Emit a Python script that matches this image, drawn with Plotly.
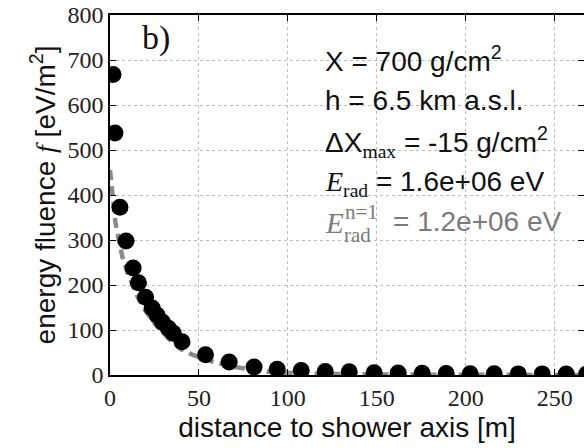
import plotly.graph_objects as go

# ---- data ----
dist_m = [1.7, 2.8, 5.6, 9.0, 13.0, 16.0, 20.0, 23.7, 26.5, 29.4, 32.8, 35.6, 40.5,
          53.7, 67.0, 81.0, 94.0, 107.5, 121.0, 134.5, 148.5, 162.0, 175.5, 189.0,
          202.5, 216.0, 229.5, 243.0, 256.5, 268.0]
fluence = [668, 538, 373, 298, 238, 205, 173, 149, 133, 118, 104, 93, 74,
           45, 29, 18, 13, 10, 8, 7, 5, 4.5, 4, 3.5, 3, 3, 2.5, 2.5, 2, 2]

fit_dist = [0, 1, 2, 3, 5, 7, 10, 13, 16, 20, 25, 30, 35, 40, 47, 58, 70, 89, 110, 150, 200, 270]
fit_flu = [455, 420, 370, 340, 300, 262, 225, 195, 170, 142, 115, 93, 73, 57, 44, 29, 18, 7, 3, 1, 0.3, 0]

x_ticks = [0, 50, 100, 150, 200, 250]
y_ticks = [0, 100, 200, 300, 400, 500, 600, 700, 800]

W, H = 584, 448
L, R, T, B = 110, 0, 15, 448 - 375
X_RANGE = [0, 266.5]
Y_RANGE = [0, 800]

SANS = "Liberation Sans"
SERIF = "Liberation Serif"

fig = go.Figure()
fig.add_trace(go.Scatter(
    x=fit_dist, y=fit_flu, mode="lines",
    line=dict(color="#8a8a8a", width=4.5, dash="10px,6px"),
    hoverinfo="skip", showlegend=False))
fig.add_trace(go.Scatter(
    x=dist_m, y=fluence, mode="markers",
    marker=dict(color="black", size=17, line=dict(width=0)),
    cliponaxis=True, showlegend=False))

axis_common = dict(
    showline=True, linecolor="black", linewidth=1.5, mirror="ticks",
    ticks="inside", ticklen=6, tickwidth=1.2, tickcolor="black",
    showgrid=True, gridcolor="#bdbdbd", griddash="dot", gridwidth=1,
    zeroline=False, automargin=False, ticklabeloverflow="allow",
    tickfont=dict(family=SERIF, size=24, color="#222"),
)

fig.update_xaxes(range=X_RANGE, tickvals=x_ticks, **axis_common,
                 title=dict(text="distance to shower axis [m]",
                            font=dict(family=SANS, size=28, color="#111"), standoff=8))
fig.update_yaxes(range=Y_RANGE, tickvals=y_ticks, **axis_common,
                 title=dict(text="energy fluence <span style='font-family:Liberation Serif'><i>f</i></span> [eV/m<sup>2</sup>]",
                            font=dict(family=SANS, size=28, color="#111"), standoff=4))


def px(xp):
    return (xp - L) / (W - L - R)


def py(yp):
    return (H - B - yp) / (H - T - B)


def note(text, xp, yp, size=28, color="#111", family=SANS, xanchor="left"):
    fig.add_annotation(text=text, x=px(xp), y=py(yp), xref="paper", yref="paper",
                       xanchor=xanchor, yanchor="middle", showarrow=False,
                       font=dict(family=family, size=size, color=color))


note("b)", 140, 38, size=34, family=SERIF)
note("X = 700 g/cm<sup>2</sup>", 323, 59)
note("h = 6.5 km a.s.l.", 323, 100)
note("ΔX<sub><span style='font-family:Liberation Serif'>max</span></sub> = -15 g/cm<sup>2</sup>", 323, 142)
note("<span style='font-family:Liberation Serif'><i>E</i><sub>rad</sub></span> = 1.6e+06 eV", 323, 183)
# stacked super/subscript for the n=1 energy
note("<i>E</i>", 323, 223, family=SERIF, color="#7a7a7a", size=29)
note("n=1", 343, 212, family=SERIF, color="#7a7a7a", size=21)
note("rad", 342, 235, family=SERIF, color="#7a7a7a", size=21)
note("= 1.2e+06 eV", 391, 222, color="#7a7a7a")

fig.update_layout(
    width=W, height=H,
    margin=dict(l=L, r=R, t=T, b=B, pad=0),
    paper_bgcolor="white", plot_bgcolor="white",
    showlegend=False,
)

# remove the browser's default 8 px body margin so the figure fills the window
fig.write_html("out.html", config={"displayModeBar": False},
               post_script="document.body.style.margin='0';document.body.style.overflow='hidden';")
